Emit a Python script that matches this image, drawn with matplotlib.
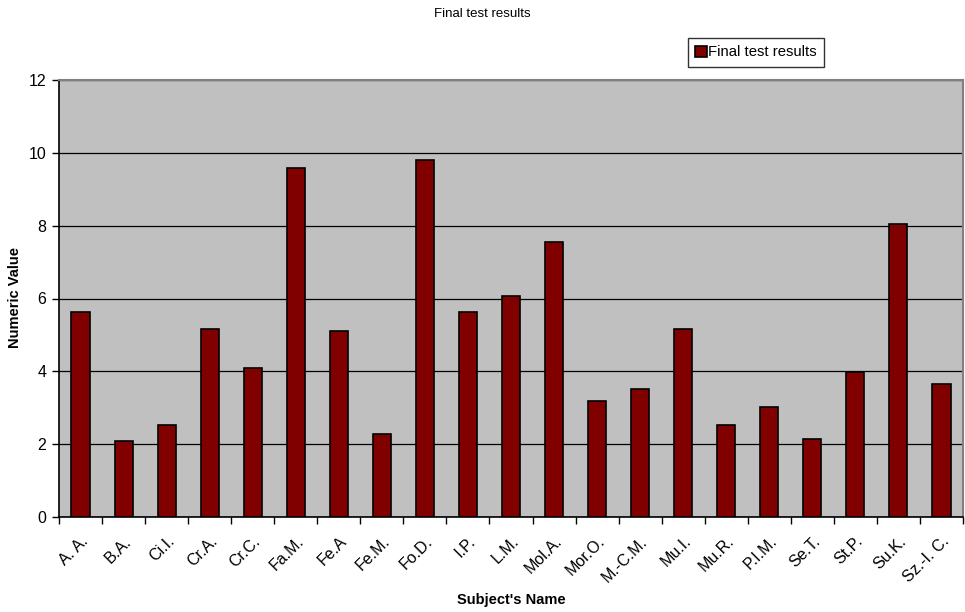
import matplotlib
matplotlib.use("Agg")
import matplotlib.pyplot as plt
import numpy as np

plt.rcParams['font.family'] = ['Liberation Sans', 'DejaVu Sans']

names = ["A. A.", "B.A.", "Ci.I.", "Cr.A.", "Cr.C.", "Fa.M.", "Fe.A", "Fe.M.", "Fo.D.",
         "I.P.", "L.M.", "Mol.A.", "Mor.O.", "M.-C.M.", "Mu.I.", "Mu.R.", "P.I.M.",
         "Se.T.", "St.P.", "Su.K.", "Sz.-I. C."]
values = [5.63, 2.09, 2.53, 5.16, 4.09, 9.59, 5.11, 2.28, 9.80,
          5.63, 6.07, 7.55, 3.19, 3.52, 5.16, 2.53, 3.02,
          2.14, 3.98, 8.05, 3.65]
yticks = [0, 2, 4, 6, 8, 10, 12]

fig = plt.figure(figsize=(9.65, 6.12), dpi=100)
ax = fig.add_axes([59/965, 95/612, (963-59)/965, (517-80)/612])
ax.set_facecolor('#C0C0C0')

x = np.arange(len(names))
ax.bar(x, values, width=0.42, color='#800000', edgecolor='black', linewidth=1.2,
       label='Final test results', zorder=3)

ax.set_xlim(-0.5, len(names) - 0.5)
ax.set_ylim(0, 12)
ax.set_yticks(yticks)
ax.yaxis.grid(True, color='black', linewidth=0.9, zorder=1)
ax.set_axisbelow(True)

ax.set_xticks(x)
ax.set_xticklabels(names, rotation=45, ha='right', rotation_mode='anchor', fontsize=11.5)
ax.tick_params(axis='x', length=0, pad=12)
ax.set_xticks(np.arange(-0.5, len(names), 1), minor=True)
ax.tick_params(axis='x', which='minor', length=5, width=1, color='black')
ax.tick_params(axis='y', length=5, width=1, labelsize=11.5, color='black', pad=4)

for s in ['left', 'bottom']:
    ax.spines[s].set_color('black')
    ax.spines[s].set_linewidth(1.2)
for s in ['top', 'right']:
    ax.spines[s].set_color('#808080')
    ax.spines[s].set_linewidth(1.5)

fig.text(15/965, 1 - 298/612, "Numeric Value", rotation=90, ha='center', va='center',
         fontsize=10.5, fontweight='bold')
fig.text(511/965, 1 - 600/612, "Subject's Name", ha='center', va='center',
         fontsize=10.5, fontweight='bold')

fig.text(0.5, 1 - 14/612, "Final test results", ha='center', va='center', fontsize=9.5)

leg = ax.legend(loc='upper left', bbox_to_anchor=(688/965, 1 - 38/612),
                bbox_transform=fig.transFigure, frameon=True, fancybox=False,
                fontsize=10.7, handlelength=0.8, handleheight=0.8, handletextpad=0.05,
                borderpad=0.5, borderaxespad=0)
leg.get_frame().set_edgecolor('black')
leg.get_frame().set_linewidth(1.0)

fig.savefig("out.png", dpi=100)
